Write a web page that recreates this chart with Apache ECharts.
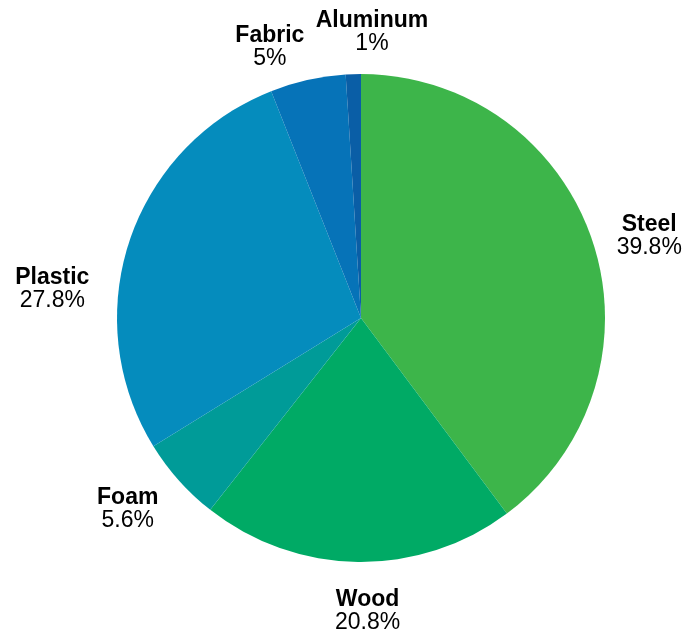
<!DOCTYPE html>
<html><head><meta charset="utf-8">
<script src="https://cdn.jsdelivr.net/npm/echarts@6/dist/echarts.min.js"></script>
<style>html,body{margin:0;padding:0;background:#fff}#c{width:696px;height:635px}</style>
</head><body><div id="c"></div>
<script>
const categories = ["Steel", "Wood", "Foam", "Plastic", "Fabric", "Aluminum"];
const values = [39.8, 20.8, 5.6, 27.8, 5, 1];
const colors = ["#3db54a", "#00aa65", "#009b98", "#058cbd", "#0673b8", "#0a5ea6"];

// label styling: angular nudge (degrees) and gap from the pie edge
const labelAngleShift = [2.5, -2, 2.5, -13, -6, 4];
const labelGap = [18, 26, 19, 27, 9, 17];

const CX = 361, CY = 318, R = 244;
const total = values.reduce((a, b) => a + b, 0);
const midAngles = [];
{
  let acc = 0;
  values.forEach(v => { midAngles.push((acc + v / 2) / total * 360); acc += v; });
}
const FONT = "'Liberation Sans', Arial, Helvetica, sans-serif";

const chart = echarts.init(document.getElementById('c'));
chart.setOption({
  animation: false,
  series: [{
    type: 'pie',
    center: [CX, CY],
    radius: R,
    startAngle: 90,
    clockwise: true,
    avoidLabelOverlap: false,
    data: categories.map((n, i) => ({ name: n, value: values[i], itemStyle: { color: colors[i] } })),
    label: {
      show: true,
      position: 'outside',
      formatter: p => '{b|' + p.name + '}\n{v|' + p.value + '%}',
      rich: {
        b: { fontFamily: FONT, fontWeight: 'bold', fontSize: 23, color: '#000', align: 'center', lineHeight: 23 },
        v: { fontFamily: FONT, fontSize: 23, color: '#000', align: 'center', lineHeight: 23 }
      }
    },
    labelLine: { show: false, length: 14, length2: 0 },
    labelLayout: function (params) {
      const i = params.dataIndex;
      const a = (midAngles[i] + labelAngleShift[i]) * Math.PI / 180;
      const s = Math.sin(a), c = Math.cos(a);
      const hw = params.labelRect.width / 2, hh = params.labelRect.height / 2;
      const ext = hw * Math.abs(s) + hh * Math.abs(c);
      const r = R + labelGap[i] + ext;
      return { x: CX + r * s, y: CY - r * c, align: 'center', verticalAlign: 'middle', hideOverlap: false, moveOverlap: null };
    }
  }]
});
</script></body></html>
